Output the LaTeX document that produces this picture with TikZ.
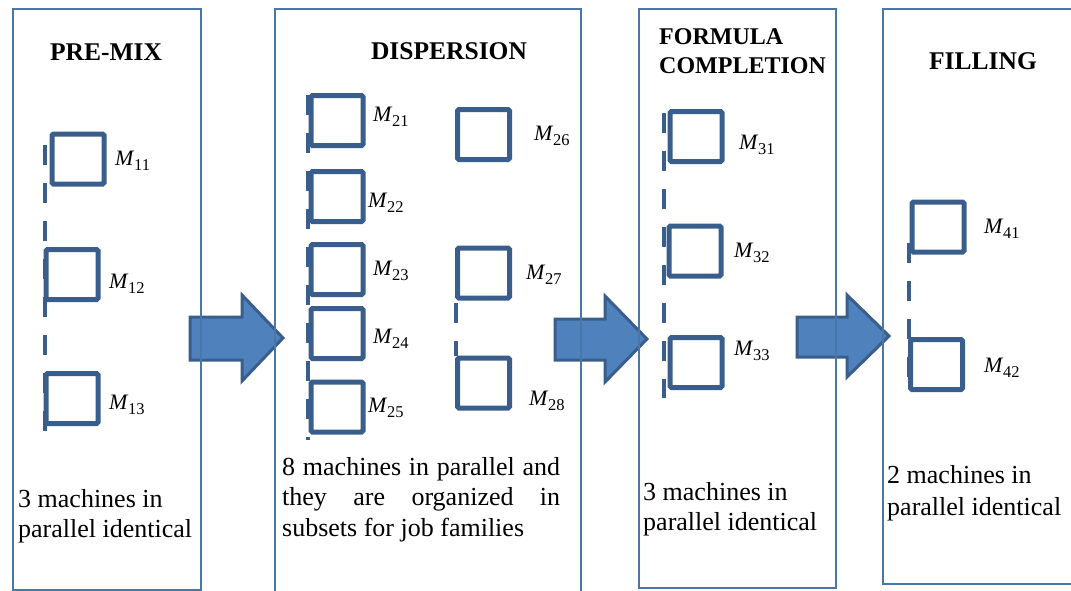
\documentclass[tikz,border=0pt]{standalone}
\usepackage{fontspec}
\setmainfont{Liberation Serif}
\definecolor{panelc}{RGB}{74,118,168}
\definecolor{machc}{RGB}{58,94,140}
\definecolor{arrowc}{RGB}{79,129,189}
% machine name: italic M with an upright lowered index
\newcommand{\mach}[1]{{\itshape M}\kern0.6pt\raisebox{-5pt}{\fontsize{16.5}{16.5}\selectfont #1}}
\tikzset{
  panel/.style={draw=panelc, line width=1.8pt, rectangle, anchor=north west, inner sep=0pt},
  machine/.style={draw=machc, line width=5pt, rectangle, rounded corners=1.5pt,
    minimum width=52pt, minimum height=50pt, inner sep=0pt},
  mlabel/.style={anchor=west, inner sep=0pt, font=\fontsize{22}{22}\selectfont},
  title/.style={font=\fontsize{25.5}{29}\selectfont\bfseries, inner sep=0pt},
  body/.style={font=\fontsize{26}{30.5}\selectfont, inner sep=0pt, anchor=north west, align=left},
  flow/.style={draw=machc, line width=3pt, fill=arrowc, line join=miter},
  link/.style={draw=machc, line width=4.5pt, dash pattern=on 20pt off 18pt},
}
\begin{document}
\begin{tikzpicture}[x=1pt,y=-1pt]
\useasboundingbox (0,0) rectangle (1071,590);

% block arrows between the stages
\path[flow] (190,317) -- (242,317) -- (242,295) -- (283,338) -- (242,381) -- (242,360) -- (190,360) -- cycle;
\path[flow] (555,319) -- (605,319) -- (605,296) -- (647,339) -- (605,382) -- (605,360) -- (555,360) -- cycle;
\path[flow] (797,317) -- (847,317) -- (847,295) -- (889,336) -- (847,377) -- (847,357) -- (797,357) -- cycle;

% stage frames
\node[panel, minimum width=188pt, minimum height=581pt] (p1) at (12,8) {};
\node[panel, minimum width=306pt, minimum height=600pt] (p2) at (274,8) {};
\node[panel, minimum width=197pt, minimum height=579pt] (p3) at (638,8) {};
\node[panel, minimum width=200pt, minimum height=575pt] (p4) at (882,8) {};

% stage titles
\node[title] (t1) at (106,52) {PRE-MIX};
\node[title] (t2) at (449,51) {DISPERSION};
\node[title, font=\fontsize{24}{29}\selectfont\bfseries, anchor=north west, align=left] (t3) at (659,28) {FORMULA\\COMPLETION};
\node[title] (t4) at (983,61) {FILLING};

% parallel links
\coordinate (d1s) at (45,145);  \coordinate (d1e) at (45,432);
\coordinate (d2s) at (308,95);  \coordinate (d2e) at (308,440);
\coordinate (d3s) at (456,303); \coordinate (d3e) at (456,356);
\coordinate (d4s) at (664,113); \coordinate (d4e) at (664,398);
\coordinate (d5s) at (909,243); \coordinate (d5e) at (909,380);
\draw[link] (d1s) -- (d1e);
\draw[link] (d2s) -- (d2e);
\draw[link] (d3s) -- (d3e);
\draw[link] (d4s) -- (d4e);
\draw[link] (d5s) -- (d5e);

% machines
\node[machine] (m11) at (78,159) {};
\node[machine] (m12) at (72,274.5) {};
\node[machine] (m13) at (72,398.5) {};
\node[machine] (m21) at (337,120.5) {};
\node[machine] (m22) at (337,196.5) {};
\node[machine] (m23) at (337,269.5) {};
\node[machine] (m24) at (337,333.5) {};
\node[machine] (m25) at (337,407) {};
\node[machine] (m26) at (483.5,134.5) {};
\node[machine] (m27) at (483.5,273) {};
\node[machine] (m28) at (483.5,383) {};
\node[machine] (m31) at (696,136.5) {};
\node[machine] (m32) at (695,251) {};
\node[machine] (m33) at (696,362.5) {};
\node[machine] (m41) at (938,227) {};
\node[machine] (m42) at (936.5,364.5) {};

% machine labels
\node[mlabel] (l11) at (115,161) {\mach{11}};
\node[mlabel] (l12) at (109,284) {\mach{12}};
\node[mlabel] (l13) at (109,405) {\mach{13}};
\node[mlabel] (l21) at (373,117) {\mach{21}};
\node[mlabel] (l22) at (368,203) {\mach{22}};
\node[mlabel] (l23) at (373,271) {\mach{23}};
\node[mlabel] (l24) at (373,339) {\mach{24}};
\node[mlabel] (l25) at (368,408) {\mach{25}};
\node[mlabel] (l26) at (534,136) {\mach{26}};
\node[mlabel] (l27) at (526,275) {\mach{27}};
\node[mlabel] (l28) at (529,401) {\mach{28}};
\node[mlabel] (l31) at (739,145) {\mach{31}};
\node[mlabel] (l32) at (734,253) {\mach{32}};
\node[mlabel] (l33) at (734,351) {\mach{33}};
\node[mlabel] (l41) at (984,229) {\mach{41}};
\node[mlabel] (l42) at (984,368) {\mach{42}};

% stage descriptions
\node[body] (b1) at (18,489) {3 machines in\\parallel identical};
\node[body] (b2) at (282,457) {\makebox[278pt][s]{8 machines in parallel and}\\\makebox[278pt][s]{they are organized in}\\subsets for job families};
\node[body] (b3) at (643,482) {3 machines in\\parallel identical};
\node[body, font=\fontsize{26}{32}\selectfont] (b4) at (887,465) {2 machines in\\parallel identical};
\end{tikzpicture}
\end{document}
